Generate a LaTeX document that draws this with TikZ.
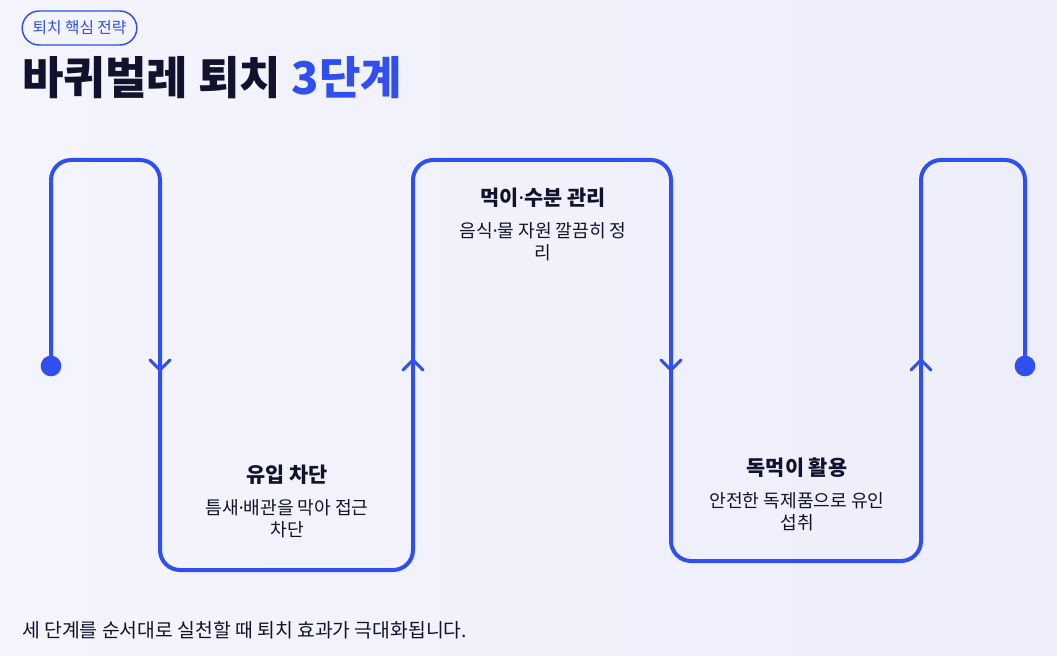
\documentclass[tikz,border=0pt]{standalone}
\usepackage{fontspec}
\setmainfont{Noto Sans CJK KR}
\newfontfamily\dotfont{Noto Sans}
\definecolor{flowblue}{HTML}{2F4FF0}
\definecolor{inkdark}{HTML}{12122E}
\definecolor{bgleft}{HTML}{F4F4FD}
\definecolor{bgright}{HTML}{EEEEFB}
\newcommand{\px}{0.75pt}
\newcommand{\mdot}{{\dotfont ·}}

\begin{document}
\begin{tikzpicture}[x=\px, y=-\px,
    flow/.style={draw=flowblue, line width=3pt, rounded corners=15pt, line cap=round},
    chev/.style={draw=flowblue, line width=2.2pt, line cap=round, line join=round},
    dot/.style={circle, fill=flowblue, minimum size=15.5pt, inner sep=0pt},
    badge/.style={draw=flowblue, line width=1.1pt, rounded corners=12.75pt, minimum width=86pt, minimum height=25.5pt, inner sep=0pt, text=flowblue, font=\fontsize{11.8}{13}\selectfont},
    steptitle/.style={font=\fontsize{15.6}{18}\selectfont\bfseries, text=inkdark, inner sep=0pt},
    stepdesc/.style={font=\fontsize{13.6}{16.5}\selectfont, text=inkdark, align=center, inner sep=0pt}]
    % Background
    \shade[left color=bgleft, right color=bgright] (0,0) rectangle (1057,656);

    % Header
    \node[badge] (badge) at (79.5,28) {퇴치 핵심 전략};
    \node[anchor=west, inner sep=0pt, text=inkdark, font=\fontsize{33.8}{38}\selectfont\bfseries] (title) at (22,78) {바퀴벌레 퇴치 \textcolor{flowblue}{3단계}};

    % Path
    \node[dot] (start) at (51,366) {};
    \node[dot] (finish) at (1025,366) {};
    \coordinate (c1) at (51,160);
    \coordinate (c2) at (160,160);
    \coordinate (c3) at (160,570);
    \coordinate (c4) at (413,570);
    \coordinate (c5) at (413,160);
    \coordinate (c6) at (671,160);
    \coordinate (c7) at (671,561);
    \coordinate (c8) at (921,561);
    \coordinate (c9) at (921,160);
    \coordinate (c10) at (1025,160);
    \draw[flow] (start.center) -- (c1) -- (c2) -- (c3) -- (c4) -- (c5) -- (c6) -- (c7) -- (c8) -- (c9) -- (c10) -- (finish.center);

    % Direction marks
    \coordinate (m1) at (160,366);
    \coordinate (m2) at (413,366);
    \coordinate (m3) at (671,366);
    \coordinate (m4) at (921,366);
    \draw[chev] ([shift={(-10,-6)}]m1) -- ([shift={(0,4)}]m1) -- ([shift={(10,-6)}]m1);
    \draw[chev] ([shift={(-10,4)}]m2) -- ([shift={(0,-6)}]m2) -- ([shift={(10,4)}]m2);
    \draw[chev] ([shift={(-10,-6)}]m3) -- ([shift={(0,4)}]m3) -- ([shift={(10,-6)}]m3);
    \draw[chev] ([shift={(-10,4)}]m4) -- ([shift={(0,-6)}]m4) -- ([shift={(10,4)}]m4);

    % Steps
    \node[steptitle] (block-title) at (287,475) {유입 차단};
    \node[stepdesc] (block-desc) at (287,519) {틈새\mdot 배관을 막아 접근\\차단};
    \node[steptitle] (food-title) at (543,198) {먹이\mdot 수분 관리};
    \node[stepdesc] (food-desc) at (543,242) {음식\mdot 물 자원 깔끔히 정\\리};
    \node[steptitle] (bait-title) at (797,468) {독먹이 활용};
    \node[stepdesc] (bait-desc) at (797,512) {안전한 독제품으로 유인\\섭취};

    % Footer
    \node[anchor=west, inner sep=0pt, text=inkdark, font=\fontsize{14.5}{17}\selectfont] (footer) at (22,630) {세 단계를 순서대로 실천할 때 퇴치 효과가 극대화됩니다.};
\end{tikzpicture}
\end{document}
